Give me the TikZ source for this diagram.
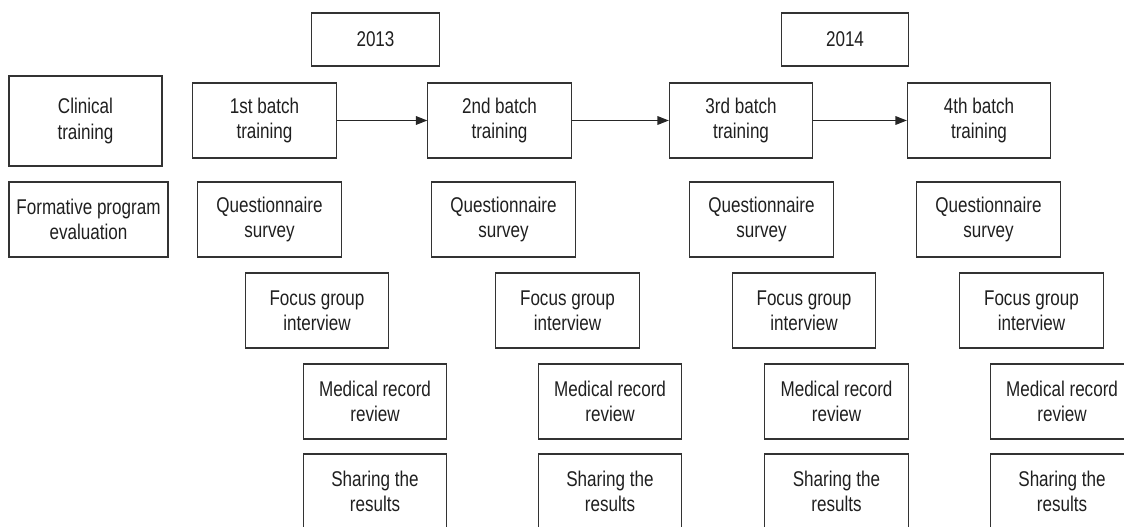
\documentclass[tikz,border=0pt]{standalone}
\usepackage{fontspec}
\setmainfont{Liberation Sans}[FakeStretch=0.8]
\usetikzlibrary{arrows.meta}
\begin{document}
\begin{tikzpicture}[x=0.75pt,y=-0.75pt,
  box/.style={draw=black!80,line width=0.8pt,inner sep=0pt,align=center,
    font=\fontsize{16}{19}\selectfont,text=black!88},
  wbox/.style={box,minimum width=107.5pt,minimum height=56.25pt},
  yearbox/.style={box,minimum width=95.6pt,minimum height=39.75pt},
  flow/.style={draw=black!85,line width=0.8pt,-{Triangle[length=8.5pt,width=6.5pt]}}]
\useasboundingbox (0,0) rectangle (1124,527);
\clip (0,0) rectangle (1124,527);
% years
\node[yearbox] (y13) at (375.5,39.5) {2013};
\node[yearbox] (y14) at (845,39.5) {2014};
% left labels
\node[box,minimum width=114.75pt,minimum height=67.5pt] (clin) at (85.5,121) {Clinical\\training};
\node[box,minimum width=119.25pt,minimum height=56.25pt] (form) at (88.5,219.5) {Formative program\\evaluation};
% batches
\node[wbox] (b1) at (264.5,120.5) {1st batch\\training};
\node[wbox] (b2) at (499.5,120.5) {2nd batch\\training};
\node[wbox] (b3) at (741,120.5) {3rd batch\\training};
\node[wbox] (b4) at (979,120.5) {4th batch\\training};
% questionnaire
\node[wbox] (q1) at (269.5,219.5) {Questionnaire\\survey};
\node[wbox] (q2) at (503.5,219.5) {Questionnaire\\survey};
\node[wbox] (q3) at (761.5,219.5) {Questionnaire\\survey};
\node[wbox] (q4) at (988.5,219.5) {Questionnaire\\survey};
% focus group
\node[wbox] (f1) at (317,310.5) {Focus group\\interview};
\node[wbox] (f2) at (567.5,310.5) {Focus group\\interview};
\node[wbox] (f3) at (804,310.5) {Focus group\\interview};
\node[wbox] (f4) at (1031.5,310.5) {Focus group\\interview};
% medical record
\node[wbox] (m1) at (375,401.5) {Medical record\\review};
\node[wbox] (m2) at (610,401.5) {Medical record\\review};
\node[wbox] (m3) at (836.5,401.5) {Medical record\\review};
\node[wbox] (m4) at (1062,401.5) {Medical record\\review};
% sharing
\node[wbox] (s1) at (375,491.5) {Sharing the\\results};
\node[wbox] (s2) at (610,491.5) {Sharing the\\results};
\node[wbox] (s3) at (836.5,491.5) {Sharing the\\results};
\node[wbox] (s4) at (1062,491.5) {Sharing the\\results};
% arrows
\draw[flow] (b1) -- (b2);
\draw[flow] (b2) -- (b3);
\draw[flow] (b3) -- (b4);
\end{tikzpicture}
\end{document}
